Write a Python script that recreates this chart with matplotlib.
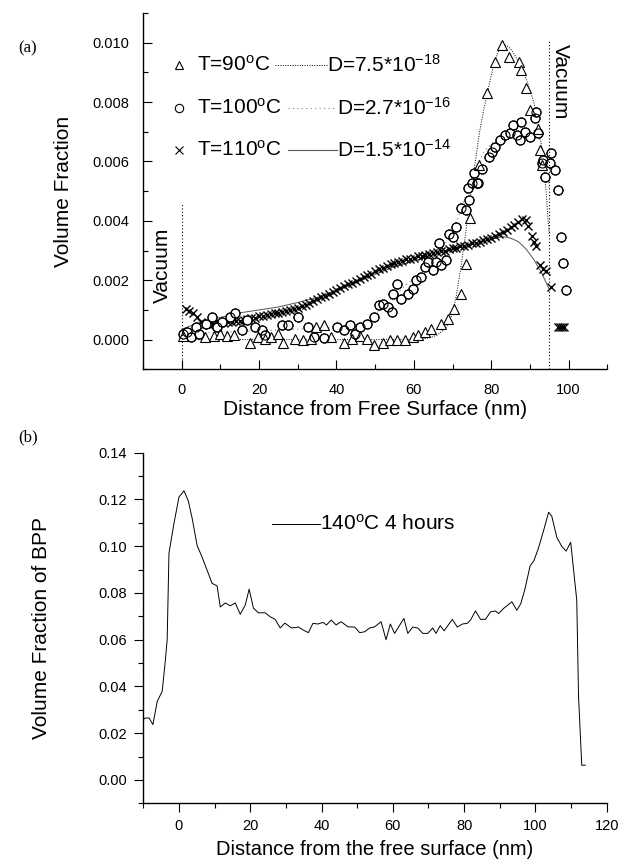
import matplotlib
matplotlib.use("Agg")
import matplotlib.pyplot as plt
from matplotlib.ticker import MultipleLocator
import numpy as np

plt.rcParams['font.family'] = ['Liberation Sans', 'DejaVu Sans']
plt.rcParams['mathtext.fontset'] = 'custom'
plt.rcParams['mathtext.rm'] = 'Liberation Sans'
plt.rcParams['mathtext.it'] = 'Liberation Sans:italic'
plt.rcParams['mathtext.bf'] = 'Liberation Sans:bold'

# ---------------- Panel (a) data (volume fraction x 1e-3) ----------------
x90 = [0.3, 6, 8.3, 10, 11.7, 13.4, 17.7, 19.8, 21.5, 23.2, 24.9, 26.2, 29.2, 31.3, 33.4,
       34.7, 36.8, 38.5, 41.9, 44.1, 46.2, 47.9, 49.6, 52.1, 53.8, 55.6, 57.7, 59.8, 61.1,
       62.8, 64.5, 67, 68.7, 70.4, 72.1, 73.4, 74.6, 76.8, 78.9, 81.1, 82.8, 84.5, 87.1,
       87.7, 89.1, 90, 92.1, 92.5, 93.0]
y90 = [0.13, 0.08, 0.13, 0.20, 0.13, 0.16, -0.13, 0.09, 0.03, 0.09, 0.20, -0.13, 0.03, -0.02,
       0.03, 0.42, 0.48, 0.09, -0.13, 0.03, 0.13, 0.03, -0.19, -0.13, -0.02, -0.02, -0.02,
       0.09, 0.15, 0.26, 0.37, 0.54, 0.71, 1.04, 1.55, 2.56, 4.08, 5.88, 8.30, 9.36, 9.92,
       9.53, 9.36, 9.08, 8.46, 7.73, 7.11, 6.38, 5.88]

x100 = [0.3, 1.3, 2.4, 3.7, 4.5, 6.2, 7.9, 9.2, 10.5, 12.6, 13.9, 15.6, 16.8, 19.0, 20.7,
        21.5, 25.8, 27.5, 30.0, 32.6, 34.3, 36.8, 40.2, 41.9, 43.6, 44.9, 46.2, 47.9, 49.6,
        50.9, 52.1, 53.4, 54.3, 54.7, 55.6, 56.8, 58.5, 59.8, 60.6, 61.9, 62.8, 63.6, 64.9,
        65.7, 66.6, 67.0, 68.3, 69.1, 70.0, 70.8, 72.1, 73.4, 74.1, 74.2, 75.1, 75.5, 76.4,
        76.6, 77.6, 79.3, 80.2, 81.1, 82.3, 83.6, 84.9, 85.7, 86.6, 87.4, 87.8, 88.7, 90.0,
        91.2, 91.7, 92.1, 93.0, 93.4, 93.8, 95.1, 95.5, 96.4, 97.2, 98.1, 98.5, 99.3]
y100 = [0.18, 0.26, 0.09, 0.42, 0.20, 0.53, 0.76, 0.42, 0.59, 0.76, 0.88, 0.32, 0.65, 0.42,
        0.32, 0.15, 0.48, 0.48, 0.76, 0.42, 0.09, 0.05, 0.42, 0.32, 0.48, 0.20, 0.42, 0.53,
        0.76, 1.15, 1.21, 1.10, 0.93, 1.55, 1.88, 1.37, 1.55, 1.72, 2.00, 2.11, 2.45, 2.62,
        2.34, 2.62, 3.24, 2.51, 2.68, 3.57, 3.46, 3.80, 4.42, 4.37, 5.09, 4.70, 5.26, 5.60,
        5.26, 5.28, 5.76, 6.16, 6.33, 6.50, 6.72, 6.89, 6.95, 7.23, 6.89, 6.72, 7.34, 7.00,
        6.83, 7.45, 7.67, 6.95, 5.94, 6.05, 5.49, 5.94, 6.27, 5.71, 5.04, 3.46, 2.58, 1.66]

x110 = [1, 2, 3, 4, 5, 6, 7, 8, 9, 10, 11, 12, 13, 14, 15, 16, 17, 18, 19, 20,
        21, 22, 23, 24, 25, 26, 27, 28, 29, 30, 31, 32, 33, 34, 35, 36, 37, 38, 39, 40,
        41, 42, 43, 44, 45, 46, 47, 48, 49, 50, 51, 52, 53, 54, 55, 56, 57, 58, 59, 60,
        61, 62, 63, 64, 65, 66, 67, 68, 69, 70, 71, 72, 73, 74, 75, 76, 77, 78, 79, 80,
        81, 82, 83, 84, 85, 86, 87, 88, 89, 89.5, 90.5, 91, 91.7, 92.5, 93.4, 94.2, 95.5,
        97.3, 97.8, 98.3, 98.8]
y110 = [1.02, 0.98, 0.90, 0.76, 0.58, 0.52, 0.50, 0.54, 0.52, 0.55,
        0.56, 0.60, 0.58, 0.62, 0.64, 0.66, 0.70, 0.72, 0.74, 0.78,
        0.80, 0.82, 0.86, 0.88, 0.90, 0.93, 0.96, 0.99, 1.03, 1.08,
        1.12, 1.18, 1.22, 1.30, 1.36, 1.42, 1.48, 1.55, 1.60, 1.66,
        1.73, 1.80, 1.86, 1.92, 1.98, 2.04, 2.10, 2.16, 2.22, 2.30,
        2.38, 2.42, 2.48, 2.53, 2.58, 2.62, 2.66, 2.70, 2.72, 2.76,
        2.80, 2.82, 2.86, 2.88, 2.92, 2.95, 2.98, 3.00, 3.04, 3.08,
        3.10, 3.14, 3.16, 3.20, 3.24, 3.26, 3.30, 3.34, 3.38, 3.42,
        3.50, 3.56, 3.62, 3.70, 3.78, 3.86, 3.96, 4.06, 4.02, 3.82, 3.50, 3.30, 3.15,
        2.50, 2.38, 2.32, 1.78, 0.44, 0.42, 0.44, 0.42]

# fitted curves
xfit90 = [0, 10, 20, 30, 40, 50, 60, 62, 64, 66, 68, 69, 70, 71, 72, 73, 74, 75, 76, 77,
          78, 79, 80, 81, 82, 83, 84, 85, 86, 87, 88, 89, 90, 91, 92, 93, 94, 95]
yfit90 = [0.0, 0.0, 0.0, 0.0, 0.0, 0.0, 0.01, 0.02, 0.06, 0.15, 0.35, 0.55, 0.90, 1.5, 2.3,
          3.2, 4.2, 5.2, 6.1, 7.0, 7.7, 8.3, 8.9, 9.4, 9.75, 9.9, 9.9, 9.8, 9.6, 9.35, 9.1,
          8.8, 8.4, 8.0, 7.4, 6.5, 5.3, 3.5]
xfit100 = [0, 10, 20, 30, 40, 45, 48, 50, 52, 54, 56, 58, 60, 62, 64, 66, 68, 70, 72, 74,
           76, 78, 80, 82, 84, 86, 88, 90, 92, 93, 94, 95]
yfit100 = [0.20, 0.25, 0.30, 0.35, 0.42, 0.50, 0.60, 0.85, 1.10, 1.35, 1.60, 1.85, 2.05,
           2.30, 2.55, 2.85, 3.20, 3.65, 4.30, 5.10, 5.80, 6.30, 6.60, 6.80, 6.90, 6.95,
           7.00, 7.00, 6.90, 6.60, 6.00, 5.00]
xfit110 = [0, 2, 5, 10, 15, 20, 25, 30, 35, 40, 45, 50, 55, 60, 65, 70, 75, 80, 83, 85,
           87, 89, 91, 93, 95]
yfit110 = [0.35, 0.45, 0.60, 0.75, 0.90, 1.00, 1.10, 1.25, 1.42, 1.65, 1.95, 2.20, 2.45,
           2.65, 2.85, 3.05, 3.20, 3.38, 3.47, 3.42, 3.30, 3.05, 2.70, 2.25, 1.70]

# ---------------- Panel (b) data ----------------
xb = [-10.2, -9.3, -8.4, -7.3, -6.1, -4.7, -3.8, -3.3, -2.8, -1.4, 0.0, 1.4, 2.6, 3.7, 5.1,
      6.5, 7.9, 9.3, 10.7, 11.6, 13.0, 14.4, 15.8, 17.2, 18.6, 19.7, 20.9, 22.3, 24.2, 25.6,
      27.0, 28.4, 29.7, 31.6, 33.5, 34.9, 36.3, 37.6, 39.0, 40.4, 41.4, 42.7, 44.1, 45.5,
      47.4, 49.3, 50.7, 52.1, 53.5, 54.9, 56.7, 58.1, 59.3, 60.5, 63.1, 64.2, 65.6, 67.0,
      68.4, 69.8, 71.2, 72.1, 73.3, 74.4, 76.7, 78.1, 79.5, 80.9, 81.8, 83.2, 84.6, 86.0,
      87.4, 88.8, 89.7, 91.1, 93.4, 94.8, 95.9, 97.1, 98.5, 99.6, 100.8, 102.3, 103.7,
      104.6, 106.0, 107.4, 108.6, 109.9, 111.6, 112.1, 113.0, 114.0]
yb = [0.0258, 0.0265, 0.0265, 0.0237, 0.0336, 0.0379, 0.0514, 0.0600, 0.0970, 0.1097,
      0.1210, 0.1237, 0.1195, 0.1120, 0.1003, 0.0953, 0.0897, 0.0841, 0.0830, 0.0740,
      0.0757, 0.0745, 0.0757, 0.0709, 0.0748, 0.0816, 0.0735, 0.0715, 0.0715, 0.0698,
      0.0687, 0.0650, 0.0671, 0.0650, 0.0654, 0.0641, 0.0630, 0.0670, 0.0667, 0.0674,
      0.0663, 0.0684, 0.0663, 0.0677, 0.0655, 0.0654, 0.0630, 0.0634, 0.0650, 0.0655,
      0.0677, 0.0600, 0.0667, 0.0627, 0.0691, 0.0627, 0.0654, 0.0650, 0.0627, 0.0627,
      0.0650, 0.0627, 0.0660, 0.0638, 0.0687, 0.0654, 0.0667, 0.0670, 0.0684, 0.0723,
      0.0687, 0.0687, 0.0719, 0.0723, 0.0712, 0.0734, 0.0762, 0.0726, 0.0754, 0.0819,
      0.0915, 0.0939, 0.0989, 0.1067, 0.1145, 0.1128, 0.1038, 0.0999, 0.0979, 0.1017,
      0.0769, 0.0357, 0.0063, 0.0063]

legend_a = [r"T=90$^\mathrm{o}$C", r"T=100$^\mathrm{o}$C", r"T=110$^\mathrm{o}$C"]
legend_d = [r"D=7.5*10$^{-18}$", r"D=2.7*10$^{-16}$", r"D=1.5*10$^{-14}$"]
legend_b = r"140$^\mathrm{o}$C 4 hours"

W, H = 621, 863
fig = plt.figure(figsize=(W / 100, H / 100), dpi=100)

# ---------------- Panel (a) ----------------
ax = fig.add_axes([143 / W, 1 - 369.3 / H, 464.3 / W, 356.3 / H])
s = 1e-3
ax.plot(xfit90, np.array(yfit90) * s, color='black', lw=0.7, ls=(0, (1, 1.5)))
ax.plot(xfit100, np.array(yfit100) * s, color='#888888', lw=0.8, ls=(0, (1, 3)))
ax.plot(xfit110, np.array(yfit110) * s, color='#555555', lw=0.7, ls='-')
ax.plot(x110, np.array(y110) * s, ls='none', marker='x', ms=6, mew=1.0, color='black')
ax.plot(x100, np.array(y100) * s, ls='none', marker='o', ms=6.5, mfc='white', mec='black', mew=0.8)
ax.plot(x90, np.array(y90) * s, ls='none', marker='^', ms=6.5, mfc='white', mec='black', mew=0.8)
ax.plot(x100, np.array(y100) * s, ls='none', marker='o', ms=6.5, mfc='none', mec='black', mew=0.8)

ax.plot([0, 0], [-0.001, 0.0046], color='black', lw=0.8, ls=(0, (1, 2)))
ax.plot([95, 95], [-0.001, 0.0101], color='black', lw=0.8, ls=(0, (1, 2)))
ax.text(-5, 0.0025, "Vacuum", rotation=90, ha='center', va='center', fontsize=15)
ax.text(97.8, 0.0087, "Vacuum", rotation=-90, ha='center', va='center', fontsize=15)

ax.set_xlim(-10, 110)
ax.set_ylim(-0.001, 0.011)
ax.xaxis.set_major_locator(MultipleLocator(20))
ax.xaxis.set_minor_locator(MultipleLocator(10))
ax.yaxis.set_major_locator(MultipleLocator(0.002))
ax.yaxis.set_minor_locator(MultipleLocator(0.001))
ax.yaxis.set_major_formatter(plt.FuncFormatter(lambda v, p: f"{v:.3f}"))
ax.tick_params(which='both', direction='in', labelsize=10.5, width=0.8)
ax.tick_params(which='major', length=6.5, pad=10)
ax.tick_params(which='minor', length=3.5)
for sp in ['top', 'right']:
    ax.spines[sp].set_visible(False)
for sp in ['left', 'bottom']:
    ax.spines[sp].set_linewidth(1.0)
ax.set_xlabel("Distance from Free Surface (nm)", fontsize=15, labelpad=2)
ax.set_ylabel("Volume Fraction", fontsize=15, labelpad=14)

# legend (a)
rows = [0.854, 0.733, 0.615]
mk = ['^', 'o', 'x']
lstyles = [dict(color='black', lw=0.7, ls=(0, (1, 1.5))),
           dict(color='#888888', lw=0.8, ls=(0, (1, 3))),
           dict(color='#555555', lw=0.8, ls='-')]
line_x = [(0.284, 0.396), (0.313, 0.417), (0.313, 0.417)]
for i in range(3):
    ax.plot([0.0775], [rows[i]], transform=ax.transAxes, marker=mk[i], ms=6,
            mfc='white' if mk[i] != 'x' else 'black', mec='black', mew=0.8, ls='none', clip_on=False)
    ax.text(0.116, rows[i], legend_a[i], transform=ax.transAxes, ha='left', va='center', fontsize=15)
    ax.plot(line_x[i], [rows[i], rows[i]], transform=ax.transAxes, **lstyles[i])
    ax.text(line_x[i][1], rows[i], legend_d[i], transform=ax.transAxes, ha='left', va='center', fontsize=15)

# ---------------- Panel (b) ----------------
bx = fig.add_axes([143.3 / W, 1 - 803.3 / H, 463.4 / W, 350.6 / H])
bx.plot(xb, yb, color='black', lw=0.7)
bx.set_xlim(-10, 120)
bx.set_ylim(-0.01, 0.14)
bx.xaxis.set_major_locator(MultipleLocator(20))
bx.xaxis.set_minor_locator(MultipleLocator(10))
bx.yaxis.set_major_locator(MultipleLocator(0.02))
bx.yaxis.set_minor_locator(MultipleLocator(0.01))
bx.yaxis.set_major_formatter(plt.FuncFormatter(lambda v, p: f"{v:.2f}"))
bx.tick_params(which='both', direction='out', labelsize=10.5, width=0.8)
bx.tick_params(which='major', length=6.5, pad=5)
bx.tick_params(which='minor', length=3.5)
for sp in ['top', 'right']:
    bx.spines[sp].set_visible(False)
for sp in ['left', 'bottom']:
    bx.spines[sp].set_linewidth(1.0)
bx.set_xlabel("Distance from the free surface (nm)", fontsize=14.5, labelpad=5)
bx.set_ylabel("Volume Fraction of BPP", fontsize=15, labelpad=34)
bx.plot([0.277, 0.381], [0.797, 0.797], transform=bx.transAxes, color='black', lw=0.7)
bx.text(0.381, 0.797, legend_b, transform=bx.transAxes, ha='left', va='center', fontsize=15)

fig.text(18 / W, 1 - 48 / H, "(a)", family='Liberation Serif', fontsize=12, ha='left', va='center')
fig.text(18 / W, 1 - 437 / H, "(b)", family='Liberation Serif', fontsize=12, ha='left', va='center')

fig.savefig("out.png", dpi=100)
